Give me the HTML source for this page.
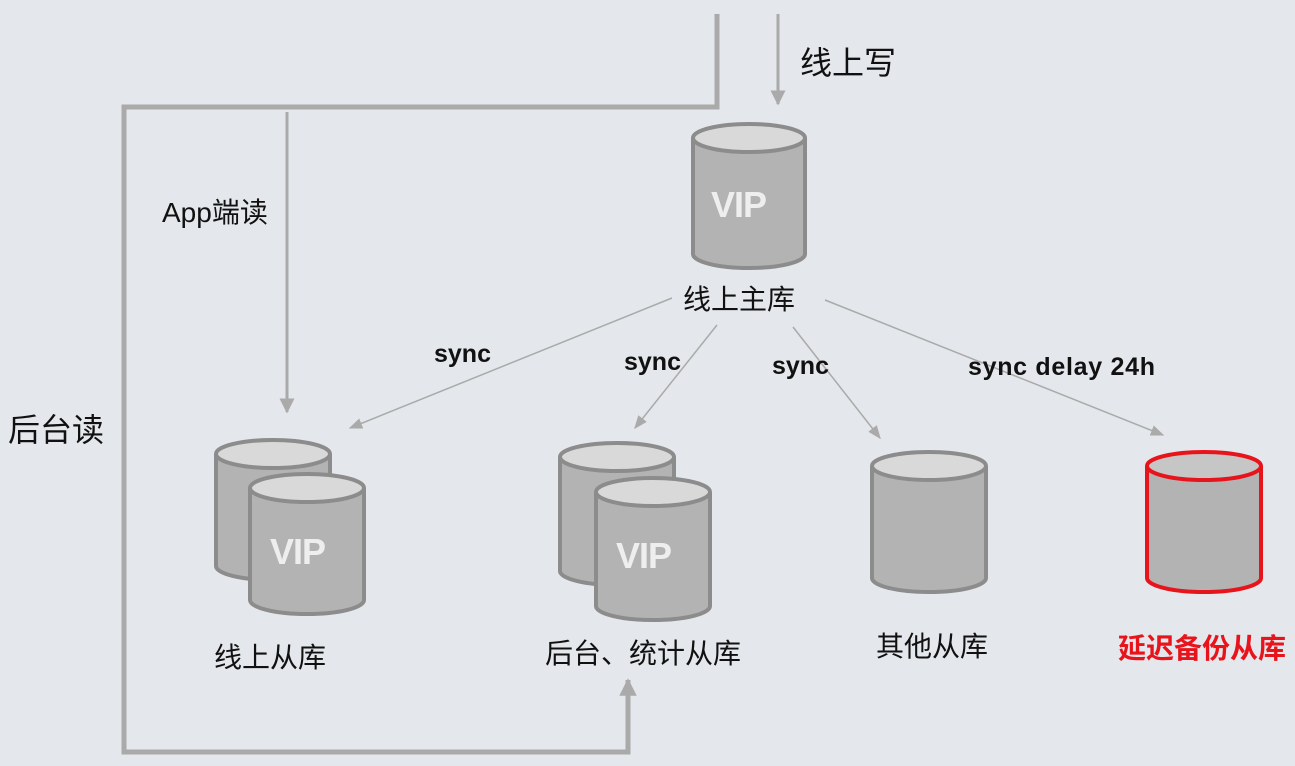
<!DOCTYPE html><html><head><meta charset="utf-8"><style>body{margin:0;background:#e4e7eb}svg{display:block}text{font-family:"Liberation Sans","Noto Sans CJK SC",sans-serif}</style></head><body>
<svg width="1295" height="766" viewBox="0 0 1295 766" xmlns="http://www.w3.org/2000/svg">
<rect width="1295" height="766" fill="#e4e7eb"/>
<defs>
<marker id="a" viewBox="0 0 10 10" refX="9" refY="5" markerWidth="5" markerHeight="5" orient="auto-start-reverse"><path d="M0,0L10,5L0,10z" fill="#aaa"/></marker>
<marker id="c" viewBox="0 0 10 10" refX="9" refY="5" markerWidth="3.5" markerHeight="3.5" orient="auto"><path d="M0,0L10,5L0,10z" fill="#aaa"/></marker>
<marker id="b" viewBox="0 0 10 10" refX="9" refY="5" markerWidth="9" markerHeight="9" orient="auto"><path d="M0,1L10,5L0,9z" fill="#aaa"/></marker>
</defs>
<g fill="none" stroke="#aaa">
<path d="M717,14V107H124V752H628V690" stroke-width="5"/>
<path d="M628,700V680" stroke-width="5" marker-end="url(#c)"/>
<path d="M287,112V412" stroke-width="3" marker-end="url(#a)"/>
<path d="M778,14V104" stroke-width="3" marker-end="url(#a)"/>
<g stroke-width="1.5">
<path d="M672,298L350,428" marker-end="url(#b)"/>
<path d="M717,325L635,428" marker-end="url(#b)"/>
<path d="M793,327L880,438" marker-end="url(#b)"/>
<path d="M825,300L1163,435" marker-end="url(#b)"/>
</g></g>
<g stroke-width="4">
<g stroke="#8c8c8c">
<path d="M693,138V254A56,14 0 0 0 805,254V138" fill="#b3b3b3"/><ellipse cx="749" cy="138" rx="56" ry="14" fill="#d9d9d9"/>
<path d="M216,454V566A57,14 0 0 0 330,566V454" fill="#b3b3b3"/><ellipse cx="273" cy="454" rx="57" ry="14" fill="#d9d9d9"/>
<path d="M250,488V600A57,14 0 0 0 364,600V488" fill="#b3b3b3"/><ellipse cx="307" cy="488" rx="57" ry="14" fill="#d9d9d9"/>
<path d="M560,457V571A57,14 0 0 0 674,571V457" fill="#b3b3b3"/><ellipse cx="617" cy="457" rx="57" ry="14" fill="#d9d9d9"/>
<path d="M596,492V606A57,14 0 0 0 710,606V492" fill="#b3b3b3"/><ellipse cx="653" cy="492" rx="57" ry="14" fill="#d9d9d9"/>
<path d="M872,466V578A57,14 0 0 0 986,578V466" fill="#b3b3b3"/><ellipse cx="929" cy="466" rx="57" ry="14" fill="#d9d9d9"/>
</g>
<g stroke="#e8141b">
<path d="M1147,466V578A57,14 0 0 0 1261,578V466" fill="#b3b3b3"/><ellipse cx="1204" cy="466" rx="57" ry="14" fill="#c6c6c6"/>
</g></g>
<g fill="#eee" font-size="36" font-weight="bold" textLength="56"><text x="711" y="217" textLength="56">VIP</text><text x="270" y="564" textLength="56">VIP</text><text x="616" y="568" textLength="56">VIP</text></g>
<g fill="#111" font-size="28">
<text x="800" y="74" font-size="32">线上写</text>
<text x="162" y="222">App端读</text>
<text x="8" y="441" font-size="32">后台读</text>
<text x="683" y="309">线上主库</text>
<text x="214" y="667">线上从库</text>
<text x="545" y="663">后台、统计从库</text>
<text x="876" y="656">其他从库</text>
<text x="1118" y="658" fill="#e8141b" font-weight="bold">延迟备份从库</text>
<g font-size="25" font-weight="bold">
<text x="434" y="362">sync</text>
<text x="624" y="370">sync</text>
<text x="772" y="374">sync</text>
<text x="968" y="375" textLength="187">sync delay 24h</text>
</g></g>
</svg></body></html>
